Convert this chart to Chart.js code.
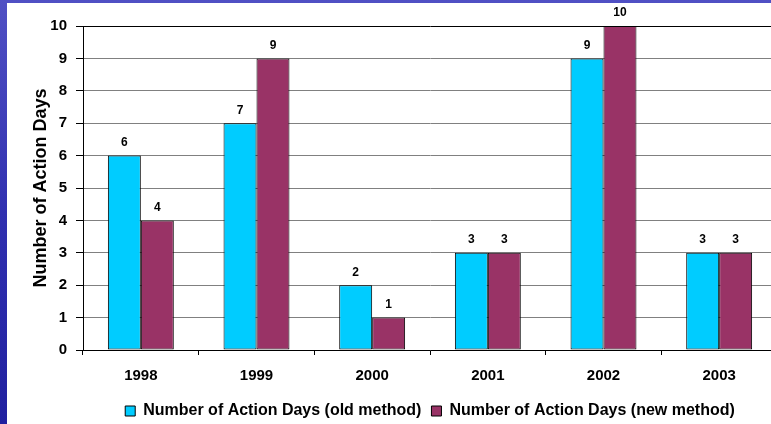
<!DOCTYPE html>
<html>
<head>
<meta charset="utf-8">
<script src="https://cdn.jsdelivr.net/npm/chart.js@4.4.1/dist/chart.umd.min.js"></script>
<style>
    html, body {
        margin: 0;
        padding: 0;
        width: 771px;
        height: 424px;
        overflow: hidden;
        background: linear-gradient(180deg, #5050c4 0%, #3030b0 50%, #2020a0 100%);
    }
    #panel {
        position: absolute;
        left: 7px;
        top: 3px;
        width: 790px;
        height: 421px;
        overflow: hidden;
        background: #ffffff;
    }
</style>
</head>
<body>
<div id="panel">
    <canvas id="actionDaysChart"></canvas>
</div>
<script>
const years = ['1998', '1999', '2000', '2001', '2002', '2003'];
const oldMethod = [6, 7, 2, 3, 9, 3];
const newMethod = [4, 9, 1, 3, 10, 3];
const yTicks = [0, 1, 2, 3, 4, 5, 6, 7, 8, 9, 10];

const FONT = '"Liberation Sans", Arial, sans-serif';

// value labels above each bar
const barLabels = {
    id: 'barLabels',
    afterDatasetsDraw(chart) {
        const ctx = chart.ctx;
        ctx.save();
        ctx.font = 'bold 12px ' + FONT;
        ctx.fillStyle = '#000';
        ctx.textAlign = 'center';
        ctx.textBaseline = 'middle';
        chart.data.datasets.forEach((ds, i) => {
            chart.getDatasetMeta(i).data.forEach((bar, j) => {
                ctx.fillText(ds.data[j], bar.x, bar.y - 13);
            });
        });
        ctx.restore();
    }
};

document.addEventListener('DOMContentLoaded', () => {
    const canvas = document.getElementById('actionDaysChart');
    canvas.width = 775;
    canvas.height = 426;
    const ctx = canvas.getContext('2d');

    new Chart(ctx, {
        type: 'bar',
        data: {
            labels: years,
            datasets: [{
                label: 'Number of Action Days (old method)',
                data: oldMethod,
                backgroundColor: '#00CCFF',
                borderColor: '#000',
                borderWidth: 1,
                borderSkipped: false,
                categoryPercentage: 0.57,
                barPercentage: 1,
            }, {
                label: 'Number of Action Days (new method)',
                data: newMethod,
                backgroundColor: '#993366',
                borderColor: '#000',
                borderWidth: 1,
                borderSkipped: false,
                categoryPercentage: 0.57,
                barPercentage: 1,
            }],
        },
        options: {
            responsive: false,
            animation: false,
            devicePixelRatio: 1,
            layout: {
                padding: { top: 23, right: 5, left: 0, bottom: 0 },
            },
            scales: {
                x: {
                    afterFit: (scale) => { scale.height = 43; },
                    border: { color: '#000', width: 1 },
                    grid: {
                        offset: true,
                        drawOnChartArea: false,
                        tickLength: 5,
                        color: '#000',
                    },
                    ticks: {
                        color: '#000',
                        padding: 12,
                        font: { family: FONT, size: 15, weight: 'bold' },
                    },
                },
                y: {
                    min: 0,
                    max: 10,
                    afterFit: (scale) => { scale.width = 76; },
                    afterBuildTicks: (scale) => {
                        scale.ticks = yTicks.map(v => ({ value: v }));
                    },
                    border: { color: '#000', width: 1 },
                    grid: {
                        color: (c) => c.tick && c.tick.value === 10 ? '#000' : '#808080',
                        tickColor: '#000',
                        tickLength: 7,
                    },
                    ticks: {
                        color: '#000',
                        padding: 9,
                        font: { family: FONT, size: 15, weight: 'bold' },
                    },
                    title: {
                        display: true,
                        text: 'Number of Action Days',
                        color: '#000',
                        padding: { top: 23, bottom: 0 },
                        font: { family: FONT, size: 18, weight: 'bold' },
                    },
                },
            },
            plugins: {
                legend: {
                    position: 'bottom',
                    fullSize: false,
                    labels: {
                        color: '#000',
                        boxWidth: 10,
                        boxHeight: 10,
                        padding: 10,
                        font: { family: FONT, size: 16, weight: 'bold' },
                    },
                },
                tooltip: { enabled: false },
            },
        },
        plugins: [barLabels],
    });
});
</script>
</body>
</html>
